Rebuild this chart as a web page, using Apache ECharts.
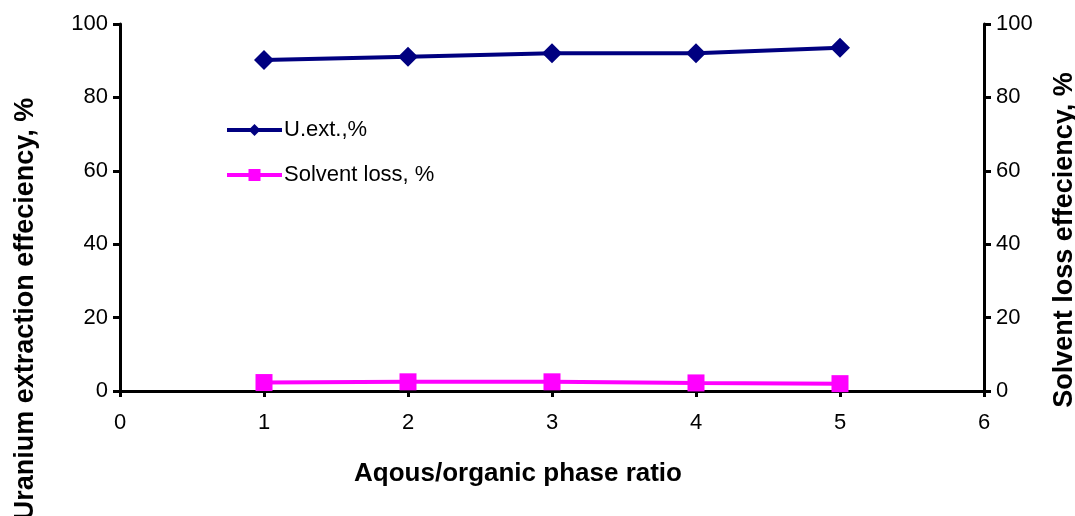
<!DOCTYPE html>
<html>
<head>
<meta charset="utf-8">
<script src="https://cdn.jsdelivr.net/npm/echarts@6/dist/echarts.min.js"></script>
<style>html,body{margin:0;padding:0;background:#fff}#c{width:1075px;height:516px}</style>
</head>
<body>
<div id="c"></div>
<script>
var xValues = [1, 2, 3, 4, 5];
var uExt = [90.2, 91.1, 92.0, 92.0, 93.5];
var solventLoss = [2.3, 2.5, 2.5, 2.2, 2.0];
var yTicks = [0, 20, 40, 60, 80, 100];
var xTitle = 'Aqous/organic phase ratio';
var yLeftTitle = 'Uranium extraction effeciency, %';
var yRightTitle = 'Solvent loss effeciency, %';
var seriesNames = ['U.ext.,%', 'Solvent loss, %'];

var font = '"Liberation Sans", Arial, sans-serif';
var chart = echarts.init(document.getElementById('c'), null, {renderer: 'canvas'});
function pairs(xs, ys) { return xs.map(function (x, i) { return [x, ys[i]]; }); }
var axisCommon = {
  min: yTicks[0], max: yTicks[yTicks.length - 1], interval: yTicks[1] - yTicks[0],
  axisLine: {show: true, lineStyle: {color: '#000', width: 3}},
  axisTick: {show: true, length: 7, lineStyle: {color: '#000', width: 3}},
  splitLine: {show: false},
  axisLabel: {color: '#000', fontSize: 22, fontFamily: font, margin: 12}
};
chart.setOption({
  animation: false,
  grid: {left: 120, right: 91, top: 24, bottom: 125, containLabel: false},
  legend: {
    orient: 'vertical', left: 220, top: 114, itemGap: 23,
    itemWidth: 55, itemHeight: 15,
    lineStyle: {width: 4},
    textStyle: {color: '#000', fontSize: 22, fontFamily: font, padding: [0, 0, 0, -3]},
    data: seriesNames
  },
  xAxis: {
    type: 'value', min: 0, max: 6, interval: 1,
    axisLine: {show: true, onZero: false, lineStyle: {color: '#000', width: 3}},
    axisTick: {show: true, length: 6, lineStyle: {color: '#000', width: 3}},
    splitLine: {show: false},
    axisLabel: {color: '#000', fontSize: 22, fontFamily: font, margin: 21}
  },
  yAxis: [
    Object.assign({type: 'value', position: 'left'}, axisCommon),
    Object.assign({type: 'value', position: 'right'}, axisCommon)
  ],
  graphic: [
    {type: 'text', x: 518, y: 474, style: {text: xTitle, font: 'bold 26px ' + font, fill: '#000', align: 'center', verticalAlign: 'middle'}},
    {type: 'text', x: 26, y: 309, rotation: Math.PI / 2, style: {text: yLeftTitle, font: 'bold 27px ' + font, fill: '#000', align: 'center', verticalAlign: 'middle'}},
    {type: 'text', x: 1065, y: 240, rotation: Math.PI / 2, style: {text: yRightTitle, font: 'bold 27px ' + font, fill: '#000', align: 'center', verticalAlign: 'middle'}}
  ],
  series: [
    {
      name: seriesNames[0], type: 'line', yAxisIndex: 0,
      data: pairs(xValues, uExt),
      symbol: 'diamond', symbolSize: 20,
      lineStyle: {color: '#000080', width: 4},
      itemStyle: {color: '#000080'}
    },
    {
      name: seriesNames[1], type: 'line', yAxisIndex: 1,
      data: pairs(xValues, solventLoss),
      symbol: 'rect', symbolSize: 17,
      lineStyle: {color: '#FF00FF', width: 4},
      itemStyle: {color: '#FF00FF'}
    }
  ]
});
</script>
</body>
</html>
